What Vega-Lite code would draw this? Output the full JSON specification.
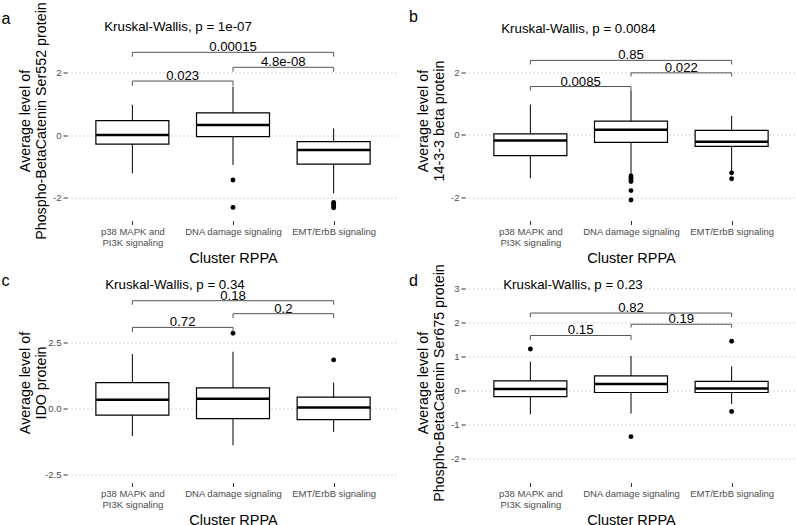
{
  "$schema": "https://vega.github.io/schema/vega-lite/v6.json",
  "padding": {"left": 1, "top": 1.5, "right": 0, "bottom": 0},
  "background": "white",
  "datasets": {
    "boxes": [
      {"panel": "a", "x": 1, "lo": -1.23, "q1": -0.29, "med": 0.0, "q3": 0.46, "hi": 0.97},
      {"panel": "a", "x": 2, "lo": -0.96, "q1": -0.05, "med": 0.32, "q3": 0.71, "hi": 1.55},
      {"panel": "a", "x": 3, "lo": -1.87, "q1": -0.93, "med": -0.48, "q3": -0.21, "hi": 0.21},
      {"panel": "b", "x": 1, "lo": -1.39, "q1": -0.67, "med": -0.18, "q3": 0.03, "hi": 0.97},
      {"panel": "b", "x": 2, "lo": -1.27, "q1": -0.24, "med": 0.16, "q3": 0.44, "hi": 1.42},
      {"panel": "b", "x": 3, "lo": -1.17, "q1": -0.37, "med": -0.22, "q3": 0.14, "hi": 0.61},
      {"panel": "c", "x": 1, "lo": -1.04, "q1": -0.25, "med": 0.33, "q3": 0.98, "hi": 2.06},
      {"panel": "c", "x": 2, "lo": -1.39, "q1": -0.38, "med": 0.37, "q3": 0.78, "hi": 2.15},
      {"panel": "c", "x": 3, "lo": -0.88, "q1": -0.42, "med": 0.04, "q3": 0.43, "hi": 0.98},
      {"panel": "d", "x": 1, "lo": -0.69, "q1": -0.17, "med": 0.05, "q3": 0.29, "hi": 0.86},
      {"panel": "d", "x": 2, "lo": -0.67, "q1": -0.05, "med": 0.2, "q3": 0.44, "hi": 1.03},
      {"panel": "d", "x": 3, "lo": -0.39, "q1": -0.05, "med": 0.07, "q3": 0.28, "hi": 0.72}
    ],
    "outliers": [
      {"panel": "a", "x": 2, "y": -1.44}, {"panel": "a", "x": 2, "y": -2.32},
      {"panel": "a", "x": 3, "y": -2.16}, {"panel": "a", "x": 3, "y": -2.21},
      {"panel": "a", "x": 3, "y": -2.27}, {"panel": "a", "x": 3, "y": -2.33},
      {"panel": "b", "x": 2, "y": -1.32}, {"panel": "b", "x": 2, "y": -1.38},
      {"panel": "b", "x": 2, "y": -1.44}, {"panel": "b", "x": 2, "y": -1.5},
      {"panel": "b", "x": 2, "y": -1.79}, {"panel": "b", "x": 2, "y": -2.09},
      {"panel": "b", "x": 3, "y": -1.22}, {"panel": "b", "x": 3, "y": -1.41},
      {"panel": "c", "x": 2, "y": 2.85}, {"panel": "c", "x": 3, "y": 1.84},
      {"panel": "d", "x": 1, "y": 1.23}, {"panel": "d", "x": 2, "y": -1.35},
      {"panel": "d", "x": 3, "y": 1.46}, {"panel": "d", "x": 3, "y": -0.61}
    ],
    "brackets": [
      {"panel": "a", "g1": 1, "g2": 2, "xm": 1.5, "y": 1.73, "tip": 1.58, "label": "0.023"},
      {"panel": "a", "g1": 2, "g2": 3, "xm": 2.5, "y": 2.17, "tip": 2.03, "label": "4.8e-08"},
      {"panel": "a", "g1": 1, "g2": 3, "xm": 2, "y": 2.65, "tip": 2.51, "label": "0.00015"},
      {"panel": "b", "g1": 1, "g2": 2, "xm": 1.5, "y": 1.55, "tip": 1.42, "label": "0.0085"},
      {"panel": "b", "g1": 2, "g2": 3, "xm": 2.5, "y": 1.99, "tip": 1.87, "label": "0.022"},
      {"panel": "b", "g1": 1, "g2": 3, "xm": 2, "y": 2.39, "tip": 2.26, "label": "0.85"},
      {"panel": "c", "g1": 1, "g2": 2, "xm": 1.5, "y": 3.07, "tip": 2.9, "label": "0.72"},
      {"panel": "c", "g1": 2, "g2": 3, "xm": 2.5, "y": 3.59, "tip": 3.42, "label": "0.2"},
      {"panel": "c", "g1": 1, "g2": 3, "xm": 2, "y": 4.08, "tip": 3.93, "label": "0.18"},
      {"panel": "d", "g1": 1, "g2": 2, "xm": 1.5, "y": 1.63, "tip": 1.5, "label": "0.15"},
      {"panel": "d", "g1": 2, "g2": 3, "xm": 2.5, "y": 1.96, "tip": 1.86, "label": "0.19"},
      {"panel": "d", "g1": 1, "g2": 3, "xm": 2, "y": 2.29, "tip": 2.17, "label": "0.82"}
    ],
    "kw": [
      {"panel": "a", "x": 0.72, "y": 3.45, "label": "Kruskal-Wallis, p = 1e-07"},
      {"panel": "b", "x": 0.71, "y": 3.4, "label": "Kruskal-Wallis, p = 0.0084"},
      {"panel": "c", "x": 0.73, "y": 4.67, "label": "Kruskal-Wallis, p = 0.34"},
      {"panel": "d", "x": 0.73, "y": 3.11, "label": "Kruskal-Wallis, p = 0.23"}
    ]
  },
  "columns": 2,
  "spacing": {"row": 62, "column": 66},
  "bounds": "flush",
  "concat": [
    {
      "width": 332, "height": 200,
      "title": {"text": "a", "dx": -65.5, "offset": -25.7},
      "layer": [
        {"data": {"name": "boxes"}, "transform": [{"filter": "datum.panel == 'a'"}],
         "mark": {"type": "rule", "color": "#000", "strokeWidth": 1},
         "encoding": {
           "x": {"field": "x", "type": "quantitative", "scale": {"domain": [0.4, 3.6], "nice": false, "zero": false},
                 "axis": {"values": [1, 2, 3], "title": "Cluster RPPA", "labelExpr": "datum.value == 1 ? ['p38 MAPK and', 'PI3K signaling'] : datum.value == 2 ? 'DNA damage signaling' : 'EMT/ErbB signaling'"}},
           "y": {"field": "lo", "type": "quantitative", "scale": {"domain": [-2.74, 3.67], "nice": false, "zero": false},
                 "axis": {"values": [-2, 0, 2], "tickCount": 10, "format": "d", "title": ["Average level of", "Phospho-BetaCatenin Ser552 protein"], "labelExpr": "replace(datum.label, '\u2212', '-')"}},
           "y2": {"field": "hi"}}},
        {"data": {"name": "boxes"}, "transform": [{"filter": "datum.panel == 'a'"}],
         "mark": {"type": "bar", "width": 73, "fill": "#fff", "stroke": "#000", "strokeWidth": 1.2},
         "encoding": {"x": {"field": "x", "type": "quantitative"}, "y": {"field": "q1", "type": "quantitative"}, "y2": {"field": "q3"}}},
        {"data": {"name": "boxes"}, "transform": [{"filter": "datum.panel == 'a'"}],
         "mark": {"type": "tick", "orient": "horizontal", "size": 73, "thickness": 2.5, "color": "#000", "opacity": 1},
         "encoding": {"x": {"field": "x", "type": "quantitative"}, "y": {"field": "med", "type": "quantitative"}}},
        {"data": {"name": "outliers"}, "transform": [{"filter": "datum.panel == 'a'"}],
         "mark": {"type": "circle", "size": 24, "color": "#000", "opacity": 1},
         "encoding": {"x": {"field": "x", "type": "quantitative"}, "y": {"field": "y", "type": "quantitative"}}},
        {"data": {"name": "brackets"}, "transform": [{"filter": "datum.panel == 'a'"}],
         "mark": {"type": "rule", "color": "#555", "strokeWidth": 1},
         "encoding": {"x": {"field": "g1", "type": "quantitative"}, "x2": {"field": "g2"}, "y": {"field": "y", "type": "quantitative"}}},
        {"data": {"name": "brackets"}, "transform": [{"filter": "datum.panel == 'a'"}],
         "mark": {"type": "rule", "color": "#555", "strokeWidth": 1},
         "encoding": {"x": {"field": "g1", "type": "quantitative"}, "y": {"field": "y", "type": "quantitative"}, "y2": {"field": "tip"}}},
        {"data": {"name": "brackets"}, "transform": [{"filter": "datum.panel == 'a'"}],
         "mark": {"type": "rule", "color": "#555", "strokeWidth": 1},
         "encoding": {"x": {"field": "g2", "type": "quantitative"}, "y": {"field": "y", "type": "quantitative"}, "y2": {"field": "tip"}}},
        {"data": {"name": "brackets"}, "transform": [{"filter": "datum.panel == 'a'"}],
         "mark": {"type": "text", "fontSize": 13.2, "baseline": "alphabetic", "dy": -1, "color": "#000"},
         "encoding": {"x": {"field": "xm", "type": "quantitative"}, "y": {"field": "y", "type": "quantitative"}, "text": {"field": "label"}}},
        {"data": {"name": "kw"}, "transform": [{"filter": "datum.panel == 'a'"}],
         "mark": {"type": "text", "fontSize": 13.3, "align": "left", "baseline": "middle", "color": "#000"},
         "encoding": {"x": {"field": "x", "type": "quantitative"}, "y": {"field": "y", "type": "quantitative"}, "text": {"field": "label"}}}
      ]
    },
    {
      "width": 332, "height": 200,
      "title": {"text": "b", "dx": -56, "offset": -4.2},
      "layer": [
        {"data": {"name": "boxes"}, "transform": [{"filter": "datum.panel == 'b'"}],
         "mark": {"type": "rule", "color": "#000", "strokeWidth": 1},
         "encoding": {
           "x": {"field": "x", "type": "quantitative", "scale": {"domain": [0.4, 3.6], "nice": false, "zero": false},
                 "axis": {"values": [1, 2, 3], "title": "Cluster RPPA", "labelExpr": "datum.value == 1 ? ['p38 MAPK and', 'PI3K signaling'] : datum.value == 2 ? 'DNA damage signaling' : 'EMT/ErbB signaling'"}},
           "y": {"field": "lo", "type": "quantitative", "scale": {"domain": [-2.75, 3.67], "nice": false, "zero": false},
                 "axis": {"values": [-2, 0, 2], "tickCount": 10, "format": "d", "title": ["Average level of", "14-3-3 beta protein"], "labelExpr": "replace(datum.label, '\u2212', '-')"}},
           "y2": {"field": "hi"}}},
        {"data": {"name": "boxes"}, "transform": [{"filter": "datum.panel == 'b'"}],
         "mark": {"type": "bar", "width": 73, "fill": "#fff", "stroke": "#000", "strokeWidth": 1.2},
         "encoding": {"x": {"field": "x", "type": "quantitative"}, "y": {"field": "q1", "type": "quantitative"}, "y2": {"field": "q3"}}},
        {"data": {"name": "boxes"}, "transform": [{"filter": "datum.panel == 'b'"}],
         "mark": {"type": "tick", "orient": "horizontal", "size": 73, "thickness": 2.5, "color": "#000", "opacity": 1},
         "encoding": {"x": {"field": "x", "type": "quantitative"}, "y": {"field": "med", "type": "quantitative"}}},
        {"data": {"name": "outliers"}, "transform": [{"filter": "datum.panel == 'b'"}],
         "mark": {"type": "circle", "size": 24, "color": "#000", "opacity": 1},
         "encoding": {"x": {"field": "x", "type": "quantitative"}, "y": {"field": "y", "type": "quantitative"}}},
        {"data": {"name": "brackets"}, "transform": [{"filter": "datum.panel == 'b'"}],
         "mark": {"type": "rule", "color": "#555", "strokeWidth": 1},
         "encoding": {"x": {"field": "g1", "type": "quantitative"}, "x2": {"field": "g2"}, "y": {"field": "y", "type": "quantitative"}}},
        {"data": {"name": "brackets"}, "transform": [{"filter": "datum.panel == 'b'"}],
         "mark": {"type": "rule", "color": "#555", "strokeWidth": 1},
         "encoding": {"x": {"field": "g1", "type": "quantitative"}, "y": {"field": "y", "type": "quantitative"}, "y2": {"field": "tip"}}},
        {"data": {"name": "brackets"}, "transform": [{"filter": "datum.panel == 'b'"}],
         "mark": {"type": "rule", "color": "#555", "strokeWidth": 1},
         "encoding": {"x": {"field": "g2", "type": "quantitative"}, "y": {"field": "y", "type": "quantitative"}, "y2": {"field": "tip"}}},
        {"data": {"name": "brackets"}, "transform": [{"filter": "datum.panel == 'b'"}],
         "mark": {"type": "text", "fontSize": 13.2, "baseline": "alphabetic", "dy": -1, "color": "#000"},
         "encoding": {"x": {"field": "xm", "type": "quantitative"}, "y": {"field": "y", "type": "quantitative"}, "text": {"field": "label"}}},
        {"data": {"name": "kw"}, "transform": [{"filter": "datum.panel == 'b'"}],
         "mark": {"type": "text", "fontSize": 13.3, "align": "left", "baseline": "middle", "color": "#000"},
         "encoding": {"x": {"field": "x", "type": "quantitative"}, "y": {"field": "y", "type": "quantitative"}, "text": {"field": "label"}}}
      ]
    },
    {
      "width": 332, "height": 200,
      "title": {"text": "c", "dx": -65.5, "offset": -11.2},
      "layer": [
        {"data": {"name": "boxes"}, "transform": [{"filter": "datum.panel == 'c'"}],
         "mark": {"type": "rule", "color": "#000", "strokeWidth": 1},
         "encoding": {
           "x": {"field": "x", "type": "quantitative", "scale": {"domain": [0.4, 3.6], "nice": false, "zero": false},
                 "axis": {"values": [1, 2, 3], "title": "Cluster RPPA", "labelExpr": "datum.value == 1 ? ['p38 MAPK and', 'PI3K signaling'] : datum.value == 2 ? 'DNA damage signaling' : 'EMT/ErbB signaling'"}},
           "y": {"field": "lo", "type": "quantitative", "scale": {"domain": [-2.8, 4.77], "nice": false, "zero": false},
                 "axis": {"values": [-2.5, 0, 2.5], "tickCount": 10, "format": ".1f", "title": ["Average level of", "IDO protein"], "labelExpr": "replace(datum.label, '\u2212', '-')"}},
           "y2": {"field": "hi"}}},
        {"data": {"name": "boxes"}, "transform": [{"filter": "datum.panel == 'c'"}],
         "mark": {"type": "bar", "width": 73, "fill": "#fff", "stroke": "#000", "strokeWidth": 1.2},
         "encoding": {"x": {"field": "x", "type": "quantitative"}, "y": {"field": "q1", "type": "quantitative"}, "y2": {"field": "q3"}}},
        {"data": {"name": "boxes"}, "transform": [{"filter": "datum.panel == 'c'"}],
         "mark": {"type": "tick", "orient": "horizontal", "size": 73, "thickness": 2.5, "color": "#000", "opacity": 1},
         "encoding": {"x": {"field": "x", "type": "quantitative"}, "y": {"field": "med", "type": "quantitative"}}},
        {"data": {"name": "outliers"}, "transform": [{"filter": "datum.panel == 'c'"}],
         "mark": {"type": "circle", "size": 24, "color": "#000", "opacity": 1},
         "encoding": {"x": {"field": "x", "type": "quantitative"}, "y": {"field": "y", "type": "quantitative"}}},
        {"data": {"name": "brackets"}, "transform": [{"filter": "datum.panel == 'c'"}],
         "mark": {"type": "rule", "color": "#555", "strokeWidth": 1},
         "encoding": {"x": {"field": "g1", "type": "quantitative"}, "x2": {"field": "g2"}, "y": {"field": "y", "type": "quantitative"}}},
        {"data": {"name": "brackets"}, "transform": [{"filter": "datum.panel == 'c'"}],
         "mark": {"type": "rule", "color": "#555", "strokeWidth": 1},
         "encoding": {"x": {"field": "g1", "type": "quantitative"}, "y": {"field": "y", "type": "quantitative"}, "y2": {"field": "tip"}}},
        {"data": {"name": "brackets"}, "transform": [{"filter": "datum.panel == 'c'"}],
         "mark": {"type": "rule", "color": "#555", "strokeWidth": 1},
         "encoding": {"x": {"field": "g2", "type": "quantitative"}, "y": {"field": "y", "type": "quantitative"}, "y2": {"field": "tip"}}},
        {"data": {"name": "brackets"}, "transform": [{"filter": "datum.panel == 'c'"}],
         "mark": {"type": "text", "fontSize": 13.2, "baseline": "alphabetic", "dy": -1, "color": "#000"},
         "encoding": {"x": {"field": "xm", "type": "quantitative"}, "y": {"field": "y", "type": "quantitative"}, "text": {"field": "label"}}},
        {"data": {"name": "kw"}, "transform": [{"filter": "datum.panel == 'c'"}],
         "mark": {"type": "text", "fontSize": 13.3, "align": "left", "baseline": "middle", "color": "#000"},
         "encoding": {"x": {"field": "x", "type": "quantitative"}, "y": {"field": "y", "type": "quantitative"}, "text": {"field": "label"}}}
      ]
    },
    {
      "width": 332, "height": 200,
      "title": {"text": "d", "dx": -56, "offset": -25.7},
      "layer": [
        {"data": {"name": "boxes"}, "transform": [{"filter": "datum.panel == 'd'"}],
         "mark": {"type": "rule", "color": "#000", "strokeWidth": 1},
         "encoding": {
           "x": {"field": "x", "type": "quantitative", "scale": {"domain": [0.4, 3.6], "nice": false, "zero": false},
                 "axis": {"values": [1, 2, 3], "title": "Cluster RPPA", "labelExpr": "datum.value == 1 ? ['p38 MAPK and', 'PI3K signaling'] : datum.value == 2 ? 'DNA damage signaling' : 'EMT/ErbB signaling'"}},
           "y": {"field": "lo", "type": "quantitative", "scale": {"domain": [-2.7, 3.19], "nice": false, "zero": false},
                 "axis": {"values": [-2, -1, 0, 1, 2, 3], "tickCount": 10, "format": "d", "title": ["Average level of", "Phospho-BetaCatenin Ser675 protein"], "labelExpr": "replace(datum.label, '\u2212', '-')"}},
           "y2": {"field": "hi"}}},
        {"data": {"name": "boxes"}, "transform": [{"filter": "datum.panel == 'd'"}],
         "mark": {"type": "bar", "width": 73, "fill": "#fff", "stroke": "#000", "strokeWidth": 1.2},
         "encoding": {"x": {"field": "x", "type": "quantitative"}, "y": {"field": "q1", "type": "quantitative"}, "y2": {"field": "q3"}}},
        {"data": {"name": "boxes"}, "transform": [{"filter": "datum.panel == 'd'"}],
         "mark": {"type": "tick", "orient": "horizontal", "size": 73, "thickness": 2.5, "color": "#000", "opacity": 1},
         "encoding": {"x": {"field": "x", "type": "quantitative"}, "y": {"field": "med", "type": "quantitative"}}},
        {"data": {"name": "outliers"}, "transform": [{"filter": "datum.panel == 'd'"}],
         "mark": {"type": "circle", "size": 24, "color": "#000", "opacity": 1},
         "encoding": {"x": {"field": "x", "type": "quantitative"}, "y": {"field": "y", "type": "quantitative"}}},
        {"data": {"name": "brackets"}, "transform": [{"filter": "datum.panel == 'd'"}],
         "mark": {"type": "rule", "color": "#555", "strokeWidth": 1},
         "encoding": {"x": {"field": "g1", "type": "quantitative"}, "x2": {"field": "g2"}, "y": {"field": "y", "type": "quantitative"}}},
        {"data": {"name": "brackets"}, "transform": [{"filter": "datum.panel == 'd'"}],
         "mark": {"type": "rule", "color": "#555", "strokeWidth": 1},
         "encoding": {"x": {"field": "g1", "type": "quantitative"}, "y": {"field": "y", "type": "quantitative"}, "y2": {"field": "tip"}}},
        {"data": {"name": "brackets"}, "transform": [{"filter": "datum.panel == 'd'"}],
         "mark": {"type": "rule", "color": "#555", "strokeWidth": 1},
         "encoding": {"x": {"field": "g2", "type": "quantitative"}, "y": {"field": "y", "type": "quantitative"}, "y2": {"field": "tip"}}},
        {"data": {"name": "brackets"}, "transform": [{"filter": "datum.panel == 'd'"}],
         "mark": {"type": "text", "fontSize": 13.2, "baseline": "alphabetic", "dy": -1, "color": "#000"},
         "encoding": {"x": {"field": "xm", "type": "quantitative"}, "y": {"field": "y", "type": "quantitative"}, "text": {"field": "label"}}},
        {"data": {"name": "kw"}, "transform": [{"filter": "datum.panel == 'd'"}],
         "mark": {"type": "text", "fontSize": 13.3, "align": "left", "baseline": "middle", "color": "#000"},
         "encoding": {"x": {"field": "x", "type": "quantitative"}, "y": {"field": "y", "type": "quantitative"}, "text": {"field": "label"}}}
      ]
    }
  ],
  "config": {
    "font": "Liberation Sans",
    "view": {"stroke": null},
    "title": {"anchor": "start", "frame": "group", "fontSize": 16, "fontWeight": "normal", "color": "#000", "baseline": "alphabetic"},
    "axisY": {"grid": true, "gridDash": [1, 3], "gridColor": "#ababab", "gridWidth": 1, "domain": false,
              "tickColor": "#333333", "tickSize": 4, "labelFontSize": 9.5, "labelColor": "#4d4d4d", "labelPadding": 2,
              "titleFontSize": 14.3, "titleFontWeight": "normal", "titleColor": "#000", "titleLineHeight": 15.5,
              "minExtent": 17, "maxExtent": 17, "titlePadding": 2},
    "axisX": {"grid": false, "domain": false, "tickColor": "#333333", "tickSize": 4, "labelFontSize": 9.5, "labelColor": "#4d4d4d",
              "labelPadding": 2, "labelLineHeight": 11, "titleFontSize": 14.5, "titleFontWeight": "normal", "titleColor": "#000", "titlePadding": 4}
  }
}
